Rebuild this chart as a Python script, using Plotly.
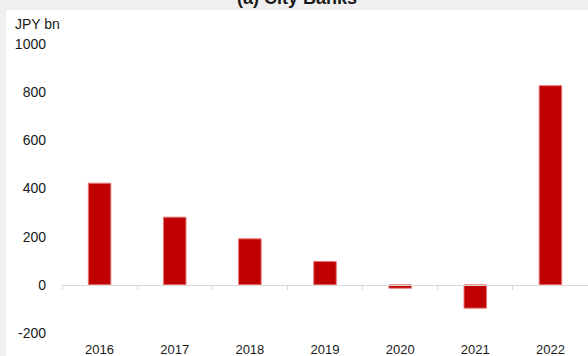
import plotly.graph_objects as go

years = ["2016", "2017", "2018", "2019", "2020", "2021", "2022"]
values = [422, 281, 191, 97, -14, -97, 827]
y_ticks = [-200, 0, 200, 400, 600, 800, 1000]
y_tick_labels = ["-200", "0", "200", "400", "600", "800", "1000"]
title_text = "(a) City Banks"
unit_text = "JPY bn"

W, H = 588, 356
L, R, T, B = 62, 0, 44, 356 - 333.3
ph = H - T - B
pw = W - L - R
ymin, ymax = -200, 1000

def px_to_xpaper(px):
    return (px - L) / pw

def px_to_ypaper(py):
    return 1 + (T - py) / ph

fig = go.Figure()
fig.add_trace(go.Bar(
    x=years, y=values, xaxis="x", yaxis="y",
    marker=dict(color="#c00000", line=dict(color="#e87a7a", width=1)),
    hoverinfo="x+y", showlegend=False,
))
fig.add_trace(go.Bar(
    x=years, y=values, xaxis="x2", yaxis="y",
    marker=dict(color="rgba(0,0,0,0)", line=dict(width=0)),
    hoverinfo="skip", showlegend=False,
))

font_family = "Liberation Sans, Arial, sans-serif"
text_color = "#1a1a1a"

fig.update_layout(
    width=W, height=H,
    margin=dict(l=L, r=R, t=T, b=B, autoexpand=False),
    paper_bgcolor="#f0f0f0",
    plot_bgcolor="white",
    bargap=0.7,
    font=dict(family=font_family, size=14, color=text_color),
    xaxis=dict(
        type="category", categoryorder="array", categoryarray=years,
        showline=False, showgrid=False, zeroline=False, ticks="",
        tickfont=dict(size=13, color=text_color),
        ticklabelstandoff=7,
        automargin=False,
    ),
    xaxis2=dict(
        type="category", categoryorder="array", categoryarray=years,
        matches="x", overlaying="x", anchor="free",
        position=(0 - ymin) / (ymax - ymin),
        showline=True, linecolor="#d9d9d9", linewidth=1,
        ticks="outside", tickson="boundaries", ticklen=4, tickcolor="#d9d9d9",
        showticklabels=False, showgrid=False, zeroline=False,
    ),
    yaxis=dict(
        range=[ymin, ymax], tickvals=y_ticks, ticktext=y_tick_labels,
        showgrid=False, zeroline=False, showline=False, ticks="",
        tickfont=dict(size=14, color=text_color),
        ticklabelstandoff=15,
        automargin=False,
    ),
    shapes=[dict(
        type="rect", xref="paper", yref="paper", layer="below",
        x0=px_to_xpaper(6), x1=px_to_xpaper(W + 20),
        y0=px_to_ypaper(H + 20), y1=px_to_ypaper(10),
        fillcolor="white", line=dict(width=0),
    )],
    annotations=[
        dict(text=f"<b>{title_text}</b>", xref="paper", yref="paper",
             x=px_to_xpaper(297), y=px_to_ypaper(10), xanchor="center", yanchor="bottom",
             showarrow=False, font=dict(size=18, color=text_color)),
        dict(text=unit_text, xref="paper", yref="paper",
             x=px_to_xpaper(13), y=px_to_ypaper(24), xanchor="left", yanchor="middle",
             showarrow=False, font=dict(size=14, color=text_color)),
    ],
)

fig.write_html(
    "out.html",
    config={"displayModeBar": False},
    post_script="document.body.style.margin='0';document.body.style.overflow='hidden';",
)
